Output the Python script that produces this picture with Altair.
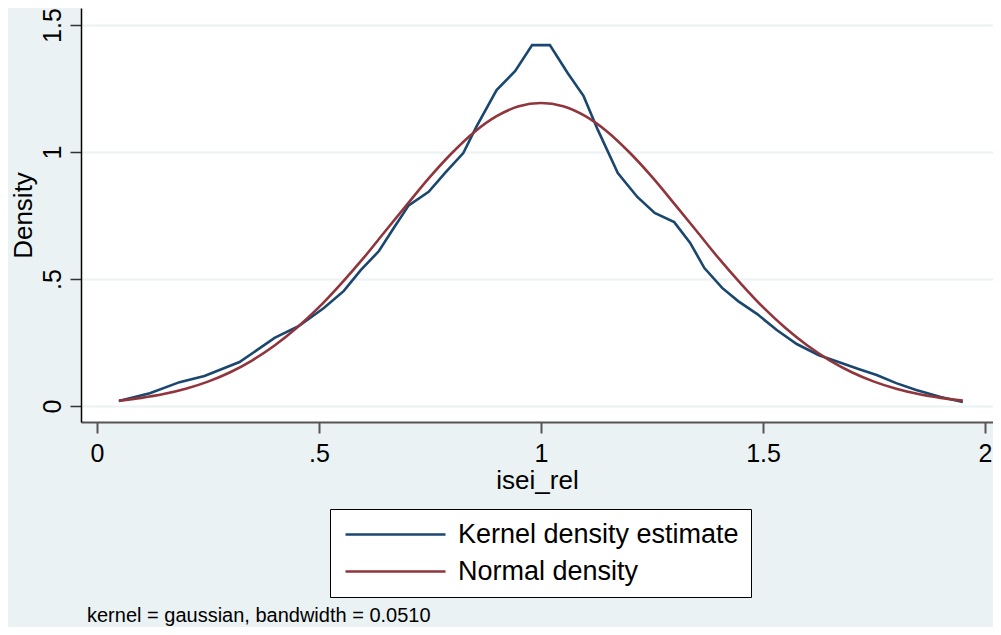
import altair as alt
import pandas as pd

# Kernel density estimate
kde_x = [0.049, 0.119, 0.186, 0.242, 0.321, 0.400, 0.455, 0.511, 0.556, 0.594,
         0.635, 0.668, 0.702, 0.747, 0.785, 0.825, 0.854, 0.900, 0.942, 0.980,
         1.020, 1.060, 1.096, 1.128, 1.173, 1.217, 1.256, 1.300, 1.336, 1.368,
         1.408, 1.444, 1.487, 1.531, 1.576, 1.626, 1.670, 1.715, 1.756, 1.800,
         1.845, 1.900, 1.950]
kde_y = [0.020, 0.050, 0.094, 0.118, 0.173, 0.268, 0.315, 0.386, 0.453, 0.535,
         0.610, 0.700, 0.790, 0.843, 0.920, 0.996, 1.098, 1.244, 1.319, 1.421,
         1.421, 1.311, 1.220, 1.087, 0.917, 0.823, 0.760, 0.724, 0.642, 0.543,
         0.465, 0.413, 0.362, 0.299, 0.244, 0.200, 0.173, 0.146, 0.122, 0.090,
         0.063, 0.035, 0.016]

# Normal density
norm_x = [0.05, 0.10, 0.15, 0.20, 0.25, 0.30, 0.35, 0.40, 0.45, 0.50,
          0.55, 0.60, 0.65, 0.70, 0.75, 0.80, 0.85, 0.90, 0.95, 1.00,
          1.05, 1.10, 1.15, 1.20, 1.25, 1.30, 1.35, 1.40, 1.45, 1.50,
          1.55, 1.60, 1.65, 1.70, 1.75, 1.80, 1.85, 1.90, 1.95]
norm_y = [0.021, 0.032, 0.047, 0.068, 0.096, 0.133, 0.180, 0.238, 0.308, 0.389,
          0.482, 0.582, 0.690, 0.797, 0.902, 0.997, 1.079, 1.141, 1.180, 1.193,
          1.180, 1.141, 1.079, 0.997, 0.902, 0.797, 0.690, 0.582, 0.482, 0.389,
          0.308, 0.238, 0.180, 0.133, 0.096, 0.068, 0.047, 0.032, 0.021]

series_names = ["Kernel density estimate", "Normal density"]
series_colors = ["#1a476f", "#90353b"]

x_ticks = [0, 0.5, 1, 1.5, 2]
x_labels = ["0", ".5", "1", "1.5", "2"]
y_ticks = [0, 0.5, 1, 1.5]
y_labels = ["0", ".5", "1", "1.5"]

note_text = "kernel = gaussian, bandwidth = 0.0510"

df = pd.concat([
    pd.DataFrame({"x": kde_x, "y": kde_y, "series": series_names[0], "order": range(len(kde_x))}),
    pd.DataFrame({"x": norm_x, "y": norm_y, "series": series_names[1], "order": range(len(norm_x))}),
])


def label_expr(vals, labs):
    parts = [f"datum.value == {v} ? '{l}'" for v, l in zip(vals, labs)]
    return " : ".join(parts) + " : datum.label"


FONT = "Liberation Sans"

base = alt.Chart(df).encode(
    x=alt.X("x:Q",
            scale=alt.Scale(domain=[-0.036, 2.018], nice=False, zero=False),
            axis=alt.Axis(values=x_ticks, labelExpr=label_expr(x_ticks, x_labels),
                          title="isei_rel", grid=False, tickSize=11,
                          tickColor="#555555", domainColor="#555555",
                          domainWidth=2, tickWidth=2, labelPadding=8,
                          labelFontSize=25, titleFontSize=26, titlePadding=1,
                          labelColor="black", titleColor="black",
                          titleFontWeight="normal", labelFont=FONT, titleFont=FONT)),
    y=alt.Y("y:Q",
            scale=alt.Scale(domain=[-0.063, 1.567], nice=False, zero=False),
            axis=alt.Axis(values=y_ticks, labelExpr=label_expr(y_ticks, y_labels),
                          title="Density", grid=True, gridColor="#eaf2f3",
                          gridWidth=2, tickSize=11, tickColor="#333333",
                          domainColor="black", domainWidth=1.5, tickWidth=1.5,
                          labelAngle=270, labelAlign="center",
                          labelBaseline="alphabetic", labelPadding=10,
                          labelFontSize=25, titleFontSize=26, titlePadding=4,
                          labelColor="black", titleColor="black",
                          titleFontWeight="normal", labelFont=FONT, titleFont=FONT)),
    color=alt.Color("series:N",
                    scale=alt.Scale(domain=series_names, range=series_colors),
                    legend=alt.Legend(title=None, orient="none", legendX=249,
                                      legendY=501, symbolType="M-1,0H9",
                                      symbolSize=400, symbolStrokeWidth=2.6,
                                      labelFontSize=27, labelFont=FONT,
                                      labelColor="black", labelOffset=89,
                                      rowPadding=9, padding=12,
                                      fillColor="white", strokeColor="black",
                                      labelLimit=400)),
    order="order:Q",
)

kde_line = base.transform_filter(
    alt.datum.series == series_names[0]
).mark_line(strokeWidth=2.6, clip=True)

norm_line = base.transform_filter(
    alt.datum.series == series_names[1]
).mark_line(strokeWidth=2.6, clip=True, interpolate="monotone")

note = alt.Chart(pd.DataFrame({"note": [note_text]})).mark_text(
    align="left", baseline="middle", fontSize=20, font=FONT, color="black"
).encode(x=alt.value(6), y=alt.value(608), text="note:N")

chart = alt.layer(kde_line, norm_line, note).properties(
    width=912, height=414,
    padding={"left": 73, "top": 0, "right": 0, "bottom": 205},
    autosize=alt.AutoSizeParams(type="none"),
    background="#eaf2f3",
).configure_view(fill="white", stroke=None)

chart.save("out.html", embed_options={"renderer": "svg", "actions": False})
